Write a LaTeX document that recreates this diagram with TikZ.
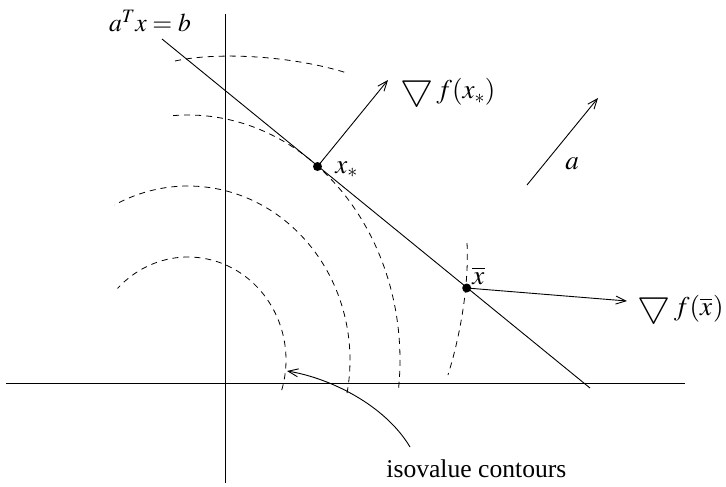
\documentclass[tikz,border=0pt]{standalone}
\usepackage{mathptmx}
\usepackage{fontspec}
\setmainfont{Liberation Serif}
\usetikzlibrary{arrows.meta}
\newcommand{\gradsym}{\raisebox{-1pt}{\scalebox{1.38}{$\bigtriangledown$}}\kern3pt}
\begin{document}
\begin{tikzpicture}[x=1pt,y=-1pt, line width=0.9pt,
  font=\fontsize{25.6}{30}\selectfont,
  arr/.style={-{Straight Barb[length=10pt,width=8pt]}},
  contour/.style={dash pattern=on 6pt off 5pt, line width=0.8pt},
  dot/.style={circle, fill, inner sep=0pt, minimum size=9pt},
  lbl/.style={inner sep=0pt},
  mlbl/.style={inner sep=0pt, font=\fontsize{27}{32}\selectfont}]
\useasboundingbox (0,0) rectangle (726,487);
% axes
\coordinate (hxL) at (6,383); \coordinate (hxR) at (685,383);
\coordinate (vyT) at (225,14); \coordinate (vyB) at (225,483);
\draw (hxL) -- (hxR);
\draw (vyT) -- (vyB);
% contours
\draw[contour] plot[domain=-17:136, samples=60, smooth] ({188+98*cos(\x)},{360-103*sin(\x)});
\draw[contour] plot[domain=-11:117, samples=60, smooth] ({188+162*cos(\x)},{360-174*sin(\x)});
\draw[contour] plot[domain=-6.5:94, samples=60, smooth] ({188+212*cos(\x)},{360-245*sin(\x)});
\draw[contour] (175,61) .. controls (215,52) and (290,55) .. (347,73);
\draw[contour] (467,243) .. controls (469,280) and (462,330) .. (448,375);
% constraint line
\coordinate (L1) at (162,39); \coordinate (L2) at (590,388);
\draw (L1) -- (L2);
\node[lbl] (eq) at (150,21) {$a^Tx=b$};
% points
\node[dot] (xs) at (317.5,166.5) {};
\node[dot] (xb) at (466.7,288) {};
\node[mlbl, anchor=base west] (xsl) at (335,173) {$x_*$};
\node[mlbl, anchor=base west] (xbl) at (472,284) {$\overline{x}$};
% gradients
\coordinate (gs) at (388,80);
\draw[arr] (xs.center) -- (gs);
\node[mlbl, anchor=base west] (gsl) at (400,99) {\gradsym$f(x_*)$};
\coordinate (gb) at (627,301);
\draw[arr] (xb.center) -- (gb);
\node[mlbl, anchor=base east] (gbl) at (724,315) {\gradsym$f(\overline{x}\kern1pt)$};
% vector a
\coordinate (a0) at (527,185); \coordinate (a1) at (598,98);
\draw[arr] (a0) -- (a1);
\node[mlbl] (al) at (572,164) {$a$};
% isovalue label
\node[lbl, anchor=base west] (iso) at (386,477) {isovalue contours};
\coordinate (c0) at (410,447); \coordinate (c1) at (287,371);
\draw[arr] (c0) .. controls (385,405) and (330,378) .. (c1);
\end{tikzpicture}
\end{document}
